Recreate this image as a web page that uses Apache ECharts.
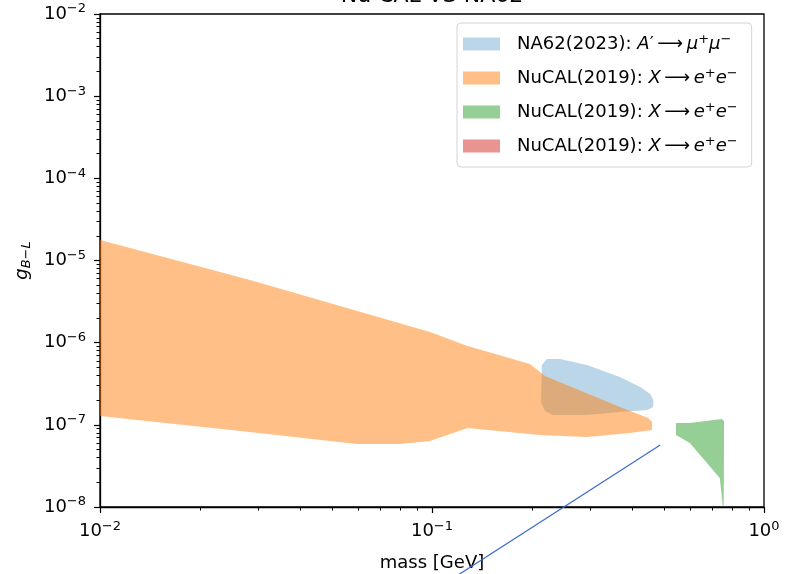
<!DOCTYPE html>
<html>
<head>
<meta charset="utf-8">
<script src="https://cdn.jsdelivr.net/npm/echarts@6/dist/echarts.min.js"></script>
<style>
  html, body { margin: 0; padding: 0; background: #fff; }
  #chart { width: 790px; height: 574px; }
</style>
</head>
<body>
<div id="chart"></div>
<script>
// NA62(2023) A' -> mu+ mu-  (closed contour)
var na62Mass = [0.2143, 0.222, 0.243, 0.293, 0.368, 0.424, 0.454, 0.464, 0.464, 0.445, 0.368, 0.293, 0.231, 0.219, 0.213];
var na62G    = [5.35e-7, 6.33e-7, 6.33e-7, 5.35e-7, 3.82e-7, 2.89e-7, 2.37e-7, 2.0e-7, 1.65e-7, 1.52e-7, 1.43e-7, 1.32e-7, 1.32e-7, 1.47e-7, 1.9e-7];

// NuCAL(2019) X -> e+ e-  (orange)
var nucalMass = [0.01, 0.0283, 0.0986, 0.128, 0.197, 0.219, 0.368, 0.448, 0.46, 0.46, 0.394, 0.293, 0.211, 0.128, 0.0986, 0.0802, 0.0594, 0.0283, 0.01];
var nucalG    = [1.78e-5, 5.8e-6, 1.35e-6, 9.1e-7, 5.5e-7, 3.94e-7, 1.65e-7, 1.21e-7, 1.08e-7, 8.65e-8, 7.96e-8, 7.11e-8, 7.5e-8, 9.17e-8, 6.35e-8, 5.85e-8, 5.85e-8, 8.2e-8, 1.28e-7];

// NuCAL(2019) X -> e+ e-  (green)
var nucal2Mass = [0.543, 0.598, 0.747, 0.758, 0.757, 0.756, 0.752, 0.736, 0.598, 0.543];
var nucal2G    = [1.05e-7, 1.05e-7, 1.18e-7, 1.11e-7, 2.1e-8, 1.0e-8, 1.0e-8, 2.25e-8, 6.01e-8, 7.51e-8];

// NuCAL(2019) X -> e+ e-  (red, nothing inside the window)
var nucal3Mass = [];
var nucal3G    = [];

// straight line
var lineMass = [0.11, 0.487];
var lineG    = [1.19e-9, 5.7e-8];

// ticks
var xMajor = [0.01, 0.1, 1];
var xMinor = [0.02, 0.03, 0.04, 0.05, 0.06, 0.07, 0.08, 0.09, 0.2, 0.3, 0.4, 0.5, 0.6, 0.7, 0.8, 0.9];
var yMajor = [1e-8, 1e-7, 1e-6, 1e-5, 1e-4, 1e-3, 1e-2];
var yMinor = [];
[1e-8, 1e-7, 1e-6, 1e-5, 1e-4, 1e-3].forEach(function (d) {
  for (var k = 2; k <= 9; k++) yMinor.push(d * k);
});

var legendNames = ['na62', 'nucal', 'nucal2', 'nucal3'];
var legendLabels = [
  'NA62(2023): {i|A}′\u2009⟶\u2009{i|μ}{sup|+}{i|μ}{sup|−}',
  'NuCAL(2019): {i|X}\u2009⟶\u2009{i|e}{sup|+}{i|e}{sup|−}',
  'NuCAL(2019): {i|X}\u2009⟶\u2009{i|e}{sup|+}{i|e}{sup|−}',
  'NuCAL(2019): {i|X}\u2009⟶\u2009{i|e}{sup|+}{i|e}{sup|−}'
];

var FONT = 'DejaVu Sans';

function powLabel(v) {
  var e = Math.round(Math.log10(v));
  return '{b|10}{sup|' + String(e).replace('-', '−') + '}';
}
var powRich = {
  b: { fontSize: 18, fontFamily: FONT, color: '#000' },
  sup: { fontSize: 13, fontFamily: FONT, color: '#000', padding: [0, 0, 10, 0] }
};

function region(name, xs, ys, color, z) {
  return {
    name: name,
    type: 'custom',
    coordinateSystem: 'cartesian2d',
    z: z,
    clip: true,
    silent: true,
    itemStyle: { color: color },
    data: xs.map(function (x, i) { return [x, ys[i]]; }),
    renderItem: function (params, api) {
      if (params.dataIndex !== 0) return;
      var pts = xs.map(function (x, i) { return api.coord([x, ys[i]]); });
      return { type: 'polygon', shape: { points: pts }, style: { fill: color } };
    }
  };
}

var myChart = echarts.init(document.getElementById('chart'));
var option = {
  animation: false,
  backgroundColor: '#fff',
  title: {
    text: 'Nu CAL VS NA62',
    left: 432,
    textAlign: 'center',
    top: -15,
    padding: 0,
    textStyle: { fontFamily: FONT, fontSize: 22, fontWeight: 'normal', color: '#000' }
  },
  grid: [
    { left: 100, right: 26, top: 14, bottom: 67, outerBoundsMode: 'none', show: true, borderColor: '#000', borderWidth: 1.3, backgroundColor: 'transparent' },
    { left: 100, right: 26, top: 14, bottom: 67, outerBoundsMode: 'none' }
  ],
  legend: {
    orient: 'vertical',
    left: 457,
    top: 23,
    padding: [10, 14, 10, 6],
    itemGap: 12,
    itemWidth: 37,
    itemHeight: 13,
    backgroundColor: 'rgba(255,255,255,0.8)',
    borderColor: '#d4d4d4',
    borderWidth: 1,
    borderRadius: 4,
    selectedMode: false,
    data: legendNames.map(function (n) { return { name: n, icon: 'rect' }; }),
    formatter: function (name) { return legendLabels[legendNames.indexOf(name)]; },
    textStyle: {
      fontFamily: FONT, fontSize: 18, color: '#000', padding: [0, 0, 0, 12], lineHeight: 22,
      rich: {
        i: { fontFamily: FONT, fontSize: 18, fontStyle: 'italic', color: '#000' },
        sup: { fontFamily: FONT, fontSize: 13, color: '#000', padding: [0, 0, 9, 0] }
      }
    }
  },
  xAxis: [
    {
      type: 'log', logBase: 10, min: 0.01, max: 1, interval: 1, gridIndex: 0,
      axisLine: { lineStyle: { color: '#000', width: 1.3 } },
      axisTick: { length: 6, lineStyle: { color: '#000', width: 1.2 } },
      splitLine: { show: false },
      axisLabel: { margin: 13, formatter: powLabel, rich: powRich },
      name: 'mass [GeV]', nameLocation: 'middle', nameGap: 47,
      nameTextStyle: { fontFamily: FONT, fontSize: 18, color: '#000' }
    },
    {
      type: 'log', logBase: 10, min: 0.01, max: 1, gridIndex: 1,
      axisLine: { show: false },
      axisTick: { length: 3.5, customValues: xMinor, lineStyle: { color: '#000', width: 1 } },
      splitLine: { show: false },
      axisLabel: { show: false }
    }
  ],
  yAxis: [
    {
      type: 'log', logBase: 10, min: 1e-8, max: 1e-2, interval: 1, gridIndex: 0,
      axisLine: { show: true, lineStyle: { color: '#000', width: 1.3 } },
      axisTick: { show: true, length: 6, lineStyle: { color: '#000', width: 1.2 } },
      splitLine: { show: false },
      axisLabel: { margin: 14, formatter: powLabel, rich: powRich },
      name: '{g|g}{sub|B−L}', nameLocation: 'middle', nameGap: 66,
      nameTextStyle: {
        rich: {
          g: { fontFamily: FONT, fontSize: 18, fontStyle: 'italic', color: '#000' },
          sub: { fontFamily: FONT, fontSize: 13, fontStyle: 'italic', color: '#000', padding: [8, 0, 0, 0] }
        }
      }
    },
    {
      type: 'log', logBase: 10, min: 1e-8, max: 1e-2, gridIndex: 1,
      axisLine: { show: false },
      axisTick: { show: true, length: 3.5, customValues: yMinor, lineStyle: { color: '#000', width: 1 } },
      splitLine: { show: false },
      axisLabel: { show: false }
    }
  ],
  series: [
    region('na62', na62Mass, na62G, 'rgba(31,119,180,0.3)', 2),
    region('nucal', nucalMass, nucalG, 'rgba(255,127,14,0.5)', 3),
    region('nucal2', nucal2Mass, nucal2G, 'rgba(44,160,44,0.5)', 3),
    region('nucal3', nucal3Mass, nucal3G, 'rgba(214,39,40,0.5)', 3),
    {
      name: 'line',
      type: 'line',
      data: lineMass.map(function (x, i) { return [x, lineG[i]]; }),
      showSymbol: false,
      clip: false,
      silent: true,
      z: 4,
      lineStyle: { color: '#3a6bd0', width: 1.2 }
    }
  ]
};
myChart.clear();
myChart.setOption(option);
</script>
</body>
</html>
